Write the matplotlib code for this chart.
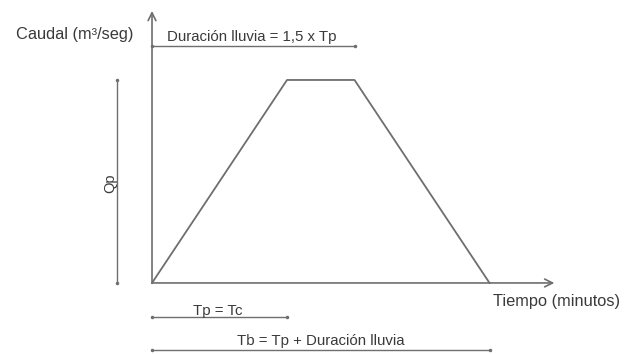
import matplotlib.pyplot as plt

plt.rcParams['font.family'] = ['Liberation Sans', 'DejaVu Sans']

# hydrograph in units of Tp (time) and Qp (flow)
tp = 1.0
duracion = 1.5 * tp
tb = tp + duracion
t_pts = [0.0, tp, duracion, tb]
q_pts = [0.0, 1.0, 1.0, 0.0]

line_col = '#6e6e6e'
text_col = '#3a3a3a'

fig = plt.figure(figsize=(6.26, 3.54), dpi=100)
ax = fig.add_axes([0, 0, 1, 1])
ax.set_xlim(-1.126, 3.511)
ax.set_ylim(-0.350, 1.394)
ax.axis('off')

# axes with arrows
ax.annotate('', xy=(0, 1.34), xytext=(0, 0),
            arrowprops=dict(arrowstyle='->', color=line_col, lw=1.2,
                            mutation_scale=14, shrinkA=0, shrinkB=0))
ax.annotate('', xy=(2.98, 0), xytext=(0, 0),
            arrowprops=dict(arrowstyle='->', color=line_col, lw=1.2,
                            mutation_scale=14, shrinkA=0, shrinkB=0))

ax.plot(t_pts, q_pts, color=line_col, lw=1.3)

def cota(x0, x1, y):
    ax.plot([x0, x1], [y, y], color=line_col, lw=1.0, marker='.',
            markersize=3)

# dimension lines
cota(0, duracion, 1.167)
ax.text(0.74, 1.212, 'Duración lluvia = 1,5 x Tp', ha='center', va='center',
        fontsize=10.8, color=text_col)

ax.plot([-0.26, -0.26], [0, 1], color=line_col, lw=1.0, marker='.', markersize=3)
ax.text(-0.31, 0.49, 'Qp', rotation=90, ha='center', va='center',
        fontsize=10.5, color=text_col)

cota(0, tp, -0.167)
ax.text(0.489, -0.136, 'Tp = Tc', ha='center', va='center',
        fontsize=10.8, color=text_col)

cota(0, tb, -0.330)
ax.text(1.252, -0.285, 'Tb = Tp + Duración lluvia', ha='center', va='center',
        fontsize=10.8, color=text_col)

ax.text(-0.57, 1.222, 'Caudal (m³/seg)', ha='center', va='center',
        fontsize=11.8, color=text_col)
ax.text(2.526, -0.089, 'Tiempo (minutos)', ha='left', va='center',
        fontsize=11.8, color=text_col)

fig.savefig('out.png', dpi=100)
